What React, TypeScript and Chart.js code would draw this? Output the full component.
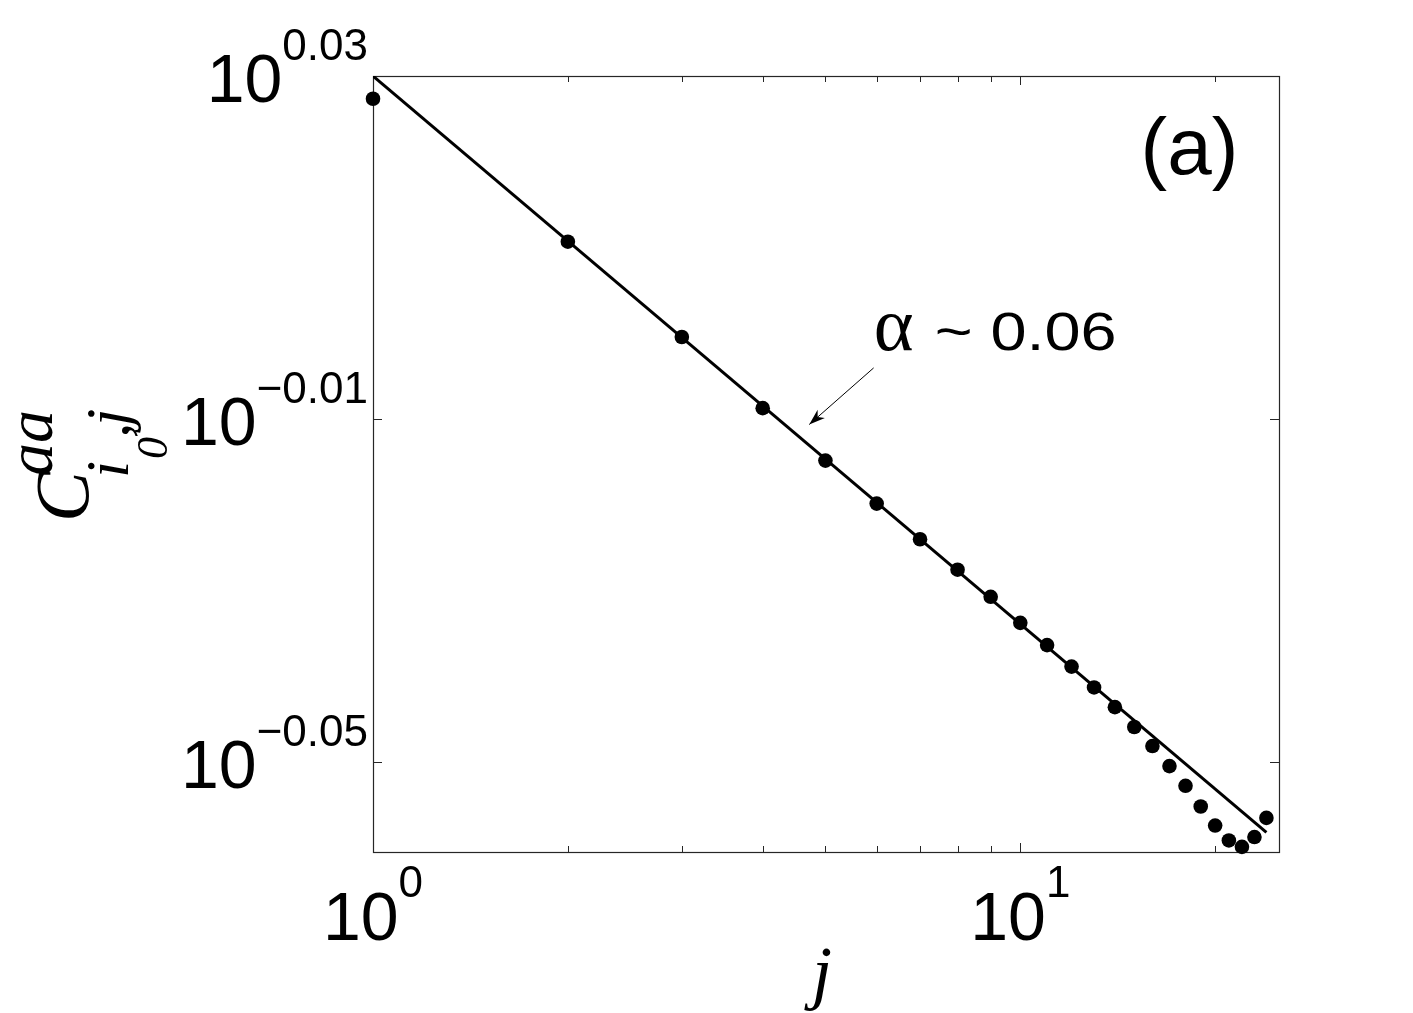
import React, { useEffect, useRef } from "react";
import { Chart, registerables } from "chart.js";

Chart.register(...registerables);

// ---- data ----
const jValues = [1, 2, 3, 4, 5, 6, 7, 8, 9, 10, 11, 12, 13, 14, 15, 16, 17, 18, 19, 20, 21, 22, 23, 24];
const correlation = [
  1.065, 1.0249, 0.999, 0.9801, 0.9664, 0.9553, 0.9462, 0.9385, 0.9317, 0.9252, 0.9197, 0.9144,
  0.9093, 0.9045, 0.8997, 0.8951, 0.8903, 0.8856, 0.8807, 0.8762, 0.8727, 0.8712, 0.8735, 0.878,
];
const fitX = [1, 24];
const fitY = [1.0715, 0.8746];

const xMin = 1;
const xMax = 25.1;
const yMin = 0.87126;
const yMax = 1.07152;

const yTickExponents = [0.03, -0.01, -0.05];
const yTickLabels = ["0.03", "\u22120.01", "\u22120.05"];
const xTickExponents = [0, 1];
const xTickLabels = ["0", "1"];
const xMinorTicks = [2, 3, 4, 5, 6, 7, 8, 9, 20];

const annotationAlpha = "\u03b1";
const annotationValue = "~ 0.06";
const annotationAnchor = { x: 5.935, y: 0.9955 };
const arrowFrom = { x: 5.935, y: 0.99075 };
const arrowTo = { x: 4.72, y: 0.97581 };
const panelLabel = "(a)";
const panelAnchor = { x: 18.25, y: 1.0436 };

const SANS = '"Liberation Sans", Arial, Helvetica, sans-serif';
const SERIF = '"Liberation Serif", "Times New Roman", serif';

const decorPlugin = {
  id: "decor",
  beforeDatasetsDraw(chart: any) {
    const { ctx, chartArea: ca, scales } = chart;
    const xs = scales.x;
    const ys = scales.y;
    ctx.save();
    ctx.strokeStyle = "#262626";
    ctx.lineWidth = 1.2;
    ctx.strokeRect(ca.left + 0.5, ca.top + 0.5, ca.right - ca.left, ca.bottom - ca.top);
    const seg = (x1: number, y1: number, x2: number, y2: number) => {
      ctx.beginPath();
      ctx.moveTo(x1, y1);
      ctx.lineTo(x2, y2);
      ctx.stroke();
    };
    ctx.lineWidth = 1;
    yTickExponents.forEach((e) => {
      const py = Math.round(ys.getPixelForValue(Math.pow(10, e))) + 0.5;
      seg(ca.left, py, ca.left + 9, py);
      seg(ca.right - 9, py, ca.right, py);
    });
    xTickExponents.forEach((e) => {
      const px = Math.round(xs.getPixelForValue(Math.pow(10, e))) + 0.5;
      seg(px, ca.bottom, px, ca.bottom - 9);
      seg(px, ca.top, px, ca.top + 9);
    });
    xMinorTicks.forEach((v) => {
      const px = Math.round(xs.getPixelForValue(v)) + 0.5;
      seg(px, ca.bottom, px, ca.bottom - 6);
      seg(px, ca.top, px, ca.top + 6);
    });
    ctx.restore();
  },
  afterDraw(chart: any) {
    const { ctx, chartArea: ca, scales } = chart;
    const xs = scales.x;
    const ys = scales.y;
    ctx.save();
    ctx.fillStyle = "#000";
    ctx.textBaseline = "alphabetic";
    const mainFont = `68px ${SANS}`;
    const supFont = `44px ${SANS}`;

    // y tick labels
    yTickExponents.forEach((e, i) => {
      const py = ys.getPixelForValue(Math.pow(10, e));
      const right = ca.left - 5;
      ctx.font = supFont;
      const sw = ctx.measureText(yTickLabels[i]).width;
      ctx.textAlign = "left";
      ctx.fillText(yTickLabels[i], right - sw, py - 16);
      ctx.font = mainFont;
      ctx.textAlign = "right";
      ctx.fillText("10", right - sw, py + 26);
    });

    // x tick labels
    xTickExponents.forEach((e, i) => {
      const px = xs.getPixelForValue(Math.pow(10, e));
      ctx.font = mainFont;
      const mw = ctx.measureText("10").width;
      ctx.font = supFont;
      const sw = ctx.measureText(xTickLabels[i]).width;
      const start = px - (mw + sw) / 2;
      ctx.textAlign = "left";
      ctx.font = mainFont;
      ctx.fillText("10", start, ca.bottom + 88);
      ctx.font = supFont;
      ctx.fillText(xTickLabels[i], start + mw, ca.bottom + 45);
    });

    // x axis label
    ctx.textAlign = "center";
    ctx.font = `italic 72px ${SERIF}`;
    ctx.fillText("j", (ca.left + ca.right) / 2 - 4, ca.bottom + 144);

    // y axis label: C^{aa}_{i_0,j}
    const cy = (ca.top + ca.bottom) / 2;
    ctx.save();
    ctx.translate(88, cy + 56);
    ctx.rotate(-Math.PI / 2);
    ctx.textAlign = "left";
    ctx.font = `italic 76px ${SERIF}`;
    ctx.fillText("C", -2, 0);
    ctx.font = `italic 66px ${SERIF}`;
    ctx.fillText("aa", 44, -36);
    ctx.font = `italic 62px ${SERIF}`;
    ctx.fillText("i", 42, 40);
    ctx.font = `italic 44px ${SERIF}`;
    ctx.fillText("0", 61, 79);
    ctx.font = `italic 62px ${SERIF}`;
    ctx.fillText(",", 82, 40);
    ctx.fillText("j", 94, 40);
    ctx.restore();

    // annotation
    const ax = xs.getPixelForValue(annotationAnchor.x);
    const ay = ys.getPixelForValue(annotationAnchor.y);
    ctx.textAlign = "left";
    ctx.font = `76px ${SERIF}`;
    ctx.fillText(annotationAlpha, ax, ay);
    ctx.save();
    ctx.font = `53px ${SANS}`;
    const vw = ctx.measureText(annotationValue).width;
    const target = 182;
    ctx.translate(ax + 61, ay);
    ctx.scale(target / vw, 1);
    ctx.fillText(annotationValue, 0, 0);
    ctx.restore();

    // arrow
    const fx = xs.getPixelForValue(arrowFrom.x);
    const fy = ys.getPixelForValue(arrowFrom.y);
    const tx = xs.getPixelForValue(arrowTo.x);
    const ty = ys.getPixelForValue(arrowTo.y);
    ctx.strokeStyle = "#000";
    ctx.lineWidth = 1;
    ctx.beginPath();
    ctx.moveTo(fx, fy);
    ctx.lineTo(tx, ty);
    ctx.stroke();
    const ang = Math.atan2(ty - fy, tx - fx);
    const L = 16;
    const W = 5.5;
    const bx = tx - L * Math.cos(ang);
    const by = ty - L * Math.sin(ang);
    const nx = -Math.sin(ang);
    const ny = Math.cos(ang);
    const notchX = tx - L * 0.7 * Math.cos(ang);
    const notchY = ty - L * 0.7 * Math.sin(ang);
    ctx.beginPath();
    ctx.moveTo(tx, ty);
    ctx.lineTo(bx + nx * W, by + ny * W);
    ctx.lineTo(notchX, notchY);
    ctx.lineTo(bx - nx * W, by - ny * W);
    ctx.closePath();
    ctx.fill();

    // panel label
    ctx.textAlign = "center";
    ctx.font = `80px ${SANS}`;
    ctx.fillText(panelLabel, xs.getPixelForValue(panelAnchor.x), ys.getPixelForValue(panelAnchor.y));

    ctx.restore();
  },
};

export default function App() {
  const canvasRef = useRef<HTMLCanvasElement | null>(null);

  useEffect(() => {
    const canvas = canvasRef.current;
    if (!canvas) return;
    const points = jValues.map((j, i) => ({ x: j, y: correlation[i] }));
    const fit = fitX.map((x, i) => ({ x, y: fitY[i] }));
    const chart = new Chart(canvas, {
      type: "scatter",
      data: {
        datasets: [
          {
            label: "fit",
            data: fit,
            showLine: true,
            borderColor: "#000",
            borderWidth: 3,
            pointRadius: 0,
            pointHoverRadius: 0,
            fill: false,
          } as any,
          {
            label: "data",
            data: points,
            showLine: false,
            backgroundColor: "#000",
            borderColor: "#000",
            borderWidth: 0,
            pointRadius: 7.3,
            pointHoverRadius: 7.3,
            clip: false,
          } as any,
        ],
      },
      options: {
        animation: false,
        responsive: false,
        devicePixelRatio: 1,
        events: [],
        layout: { padding: { top: 76, right: 134, left: 0, bottom: 0 } },
        plugins: { legend: { display: false }, tooltip: { enabled: false }, title: { display: false } },
        scales: {
          x: {
            type: "logarithmic",
            min: xMin,
            max: xMax,
            grid: { display: false },
            border: { display: false },
            ticks: { display: false },
            afterFit: (s: any) => {
              s.height = 161;
            },
          },
          y: {
            type: "logarithmic",
            min: yMin,
            max: yMax,
            grid: { display: false },
            border: { display: false },
            ticks: { display: false },
            afterFit: (s: any) => {
              s.width = 373;
            },
          },
        },
      },
      plugins: [decorPlugin],
    });
    return () => chart.destroy();
  }, []);

  return (
    <div style={{ position: "absolute", left: 0, top: 0, width: 1413, height: 1013, background: "#fff" }}>
      <canvas ref={canvasRef} width={1413} height={1013} style={{ width: 1413, height: 1013, display: "block" }} />
    </div>
  );
}
